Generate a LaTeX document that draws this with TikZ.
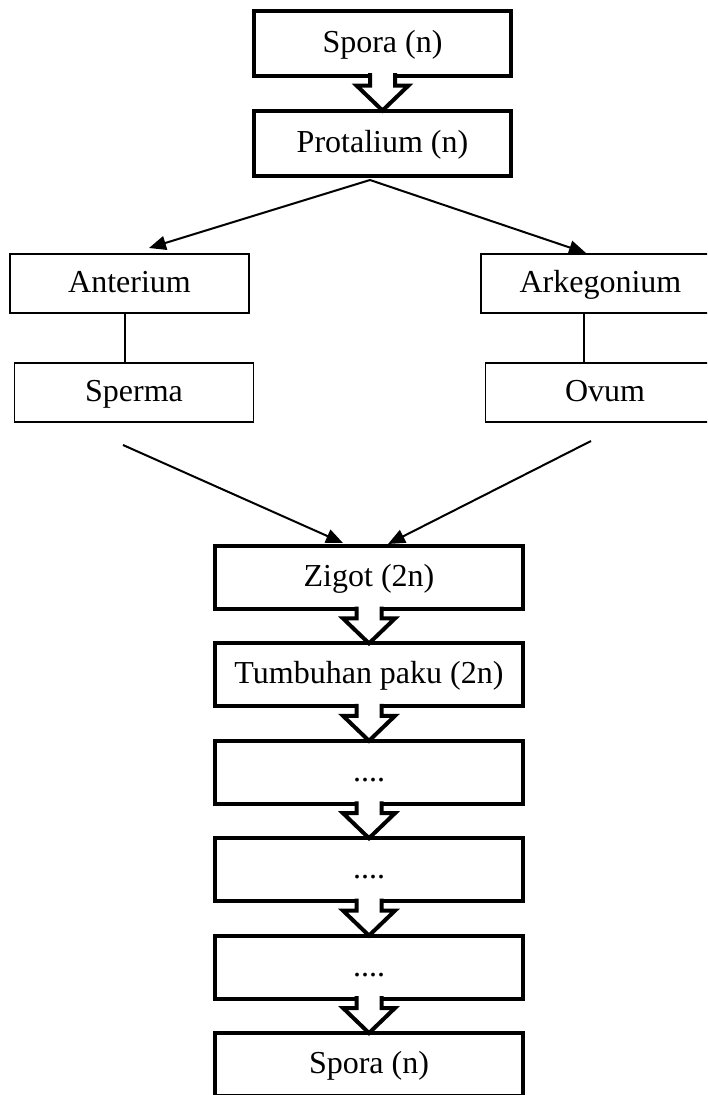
\documentclass[tikz,border=0pt]{standalone}
\usepackage{fontspec}
\setmainfont{Liberation Serif}
\usetikzlibrary{arrows.meta}

\begin{document}
\begin{tikzpicture}[x=1pt,y=-1pt,>={Triangle[length=17pt,width=14pt]},
    stage/.style={draw,rectangle,line width=4pt,outer sep=0pt,minimum width=257pt,minimum height=65pt,
      text height=22pt,text depth=4pt,font=\fontsize{32}{38}\selectfont},
    wide/.style={stage,minimum width=308pt,minimum height=63pt},
    organ/.style={draw,rectangle,line width=1.5pt,outer sep=0pt,minimum width=239pt,minimum height=59pt,
      text height=22pt,text depth=5pt,font=\fontsize{32}{38}\selectfont},
    blockarrow/.style={draw,fill=white,line width=4pt,line join=miter},
    node distance=100pt]
  \useasboundingbox (0,0) rectangle (707,1095);
  \clip (0,0) rectangle (707,1095);

  \node[stage] (spora) at (382.5,43) {Spora (n)};
  \node[stage] [below of=spora] (prot){Protalium (n)};
  \node[organ] (ant) at (129.5,283.5) {Anterium};
  \node[organ] [below of=ant, node distance=109pt, xshift=4.5pt] (sperma){Sperma};
  \node[organ] (ark) at (600.5,283.5) {Arkegonium};
  \node[organ] [below of=ark, node distance=109pt, xshift=4.5pt] (ovum){Ovum};
  \node[wide] (zigot) at (369,577.5) {Zigot (2n)};
  \node[wide] [below of=zigot, node distance=97.4pt] (paku){Tumbuhan paku (2n)};
  \node[wide] [below of=paku, node distance=97.4pt] (isi1){....};
  \node[wide] [below of=isi1, node distance=97.4pt] (isi2){....};
  \node[wide] [below of=isi2, node distance=97.4pt] (isi3){....};
  \node[wide] [below of=isi3, node distance=97.4pt] (spora2){Spora (n)};

  % hollow arrows down the column
  \foreach \a/\b in {spora/prot,zigot/paku,paku/isi1,isi1/isi2,isi2/isi3,isi3/spora2}
    \draw[blockarrow] ([shift={(-12.5,-2.5)}]\a.south) -- ([shift={(-12.5,-25)}]\b.north)
      -- ++(-13.5,0) -- (\b.north) -- ++(26,-25) -- ++(-13.5,0)
      -- ([shift={(12.5,-2.5)}]\a.south);

  \draw[line width=1.2pt] ([xshift=-4.5pt]ant.south) -- ([xshift=-9pt]sperma.north);
  \draw[line width=1.2pt] ([xshift=-16.5pt]ark.south) -- ([xshift=-21pt]ovum.north);

  \path[->,line width=2pt]
    ([shift={(-12.5,4.5)}]prot.south)
      edge ([shift={(19.5,-6)}]ant.north)
      edge ([shift={(-14.5,-1)}]ark.north)
    ([shift={(-11,23)}]sperma.south)
      edge ([shift={(-26,-3)}]zigot.north)
    ([shift={(-14,19)}]ovum.south)
      edge ([shift={(19,-2)}]zigot.north)
  ;

\end{tikzpicture}
\end{document}
